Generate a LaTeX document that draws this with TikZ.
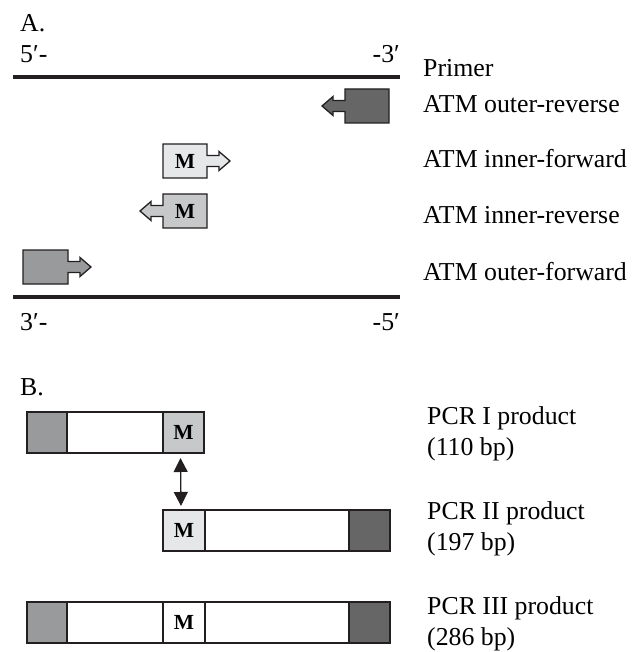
\documentclass[tikz,border=0pt]{standalone}
\usepackage{fontspec}
\setmainfont{Liberation Serif}
\usetikzlibrary{arrows.meta}
\definecolor{ink}{HTML}{231F20}
\definecolor{outerrev}{HTML}{666666}
\definecolor{outerfwd}{HTML}{999A9C}
\definecolor{innerrev}{HTML}{C7C8CA}
\definecolor{innerfwd}{HTML}{E6E7E8}
\tikzset{
  lbl/.style={inner sep=0pt, anchor=base west, font=\fontsize{25.8}{31}\selectfont},
  lblr/.style={lbl, anchor=base east},
  two/.style={lbl, align=left},
  strand/.style={line width=4pt, ink},
  primer/.style={draw=ink, line width=1.3pt, line join=miter},
  seg/.style={draw=ink, line width=1.3pt, minimum height=41pt, inner sep=0pt, outer sep=0pt},
  mtext/.style={font=\fontsize{21.5}{22}\selectfont\bfseries},
  swap/.style={line width=1.3pt, ink, {Triangle[length=14pt,width=14pt]}-{Triangle[length=14pt,width=14pt]}}
}
% primer glyph: box with a block arrow leaving one side
% #1 left x, #2 right x, #3 top y, #4 fill, #5 +1 arrow to the right / -1 to the left
\newcommand\primerglyph[5]{%
  \pgfmathsetmacro\ym{#3+17}%
  \ifnum#5>0
    \filldraw[primer, fill=#4] (#1,#3) -- (#2,#3) -- (#2,\ym-5.5) -- (#2+12,\ym-5.5) -- (#2+12,\ym-9.5)
      -- (#2+23,\ym) -- (#2+12,\ym+9.5) -- (#2+12,\ym+5.5) -- (#2,\ym+5.5) -- (#2,#3+34) -- (#1,#3+34) -- cycle;
  \else
    \filldraw[primer, fill=#4] (#2,#3) -- (#1,#3) -- (#1,\ym-5.5) -- (#1-12,\ym-5.5) -- (#1-12,\ym-9.5)
      -- (#1-23,\ym) -- (#1-12,\ym+9.5) -- (#1-12,\ym+5.5) -- (#1,\ym+5.5) -- (#1,#3+34) -- (#2,#3+34) -- cycle;
  \fi}
\begin{document}
\begin{tikzpicture}[x=1pt, y=-1pt]
\useasboundingbox (0,0) rectangle (640,652);

% ---------- panel A ----------
\node[lbl] (pa) at (20,32) {A.};
\node[lbl] (p5t) at (20,63) {5′-};
\node[lblr] (p3t) at (400,63) {-3′};
\draw[strand] (13,77) coordinate (ta) -- (400,77) coordinate (tb);
\draw[strand] (13,297) coordinate (ba) -- (400,297) coordinate (bb);
\node[lbl] (p3b) at (20,330) {3′-};
\node[lblr] (p5b) at (400,330) {-5′};

\primerglyph{345}{389}{89}{outerrev}{-1}
\primerglyph{163}{207}{144}{innerfwd}{1}
\primerglyph{163}{207}{194}{innerrev}{-1}
\primerglyph{23}{68}{250}{outerfwd}{1}
\node[mtext] (mif) at (185,161) {M};
\node[mtext] (mir) at (185,211) {M};

\node[lbl] (hprimer) at (423,77) {Primer};
\node[lbl] (lor) at (423,113) {ATM outer-reverse};
\node[lbl] (lif) at (423,168) {ATM inner-forward};
\node[lbl] (lir) at (423,223) {ATM inner-reverse};
\node[lbl] (lof) at (423,280) {ATM outer-forward};

% ---------- panel B ----------
\node[lbl] (pb) at (20,395) {B.};

% PCR I
\node[seg, fill=outerfwd, minimum width=40pt, anchor=north west] (a1) at (27,412) {};
\node[seg, fill=white, minimum width=96pt, anchor=north west] (a2) at (a1.north east) {};
\node[seg, fill=innerrev, minimum width=41pt, anchor=north west, mtext] (a3) at (a2.north east) {M};
% PCR II
\node[seg, fill=innerfwd, minimum width=42pt, anchor=north west, mtext] (b1) at (163,510) {M};
\node[seg, fill=white, minimum width=144pt, anchor=north west] (b2) at (b1.north east) {};
\node[seg, fill=outerrev, minimum width=41pt, anchor=north west] (b3) at (b2.north east) {};
% PCR III
\node[seg, fill=outerfwd, minimum width=40pt, anchor=north west] (c1) at (27,602) {};
\node[seg, fill=white, minimum width=96pt, anchor=north west] (c2) at (c1.north east) {};
\node[seg, fill=white, minimum width=42pt, anchor=north west, mtext] (c3) at (c2.north east) {M};
\node[seg, fill=white, minimum width=144pt, anchor=north west] (c4) at (c3.north east) {};
\node[seg, fill=outerrev, minimum width=41pt, anchor=north west] (c5) at (c4.north east) {};

\draw[swap] ([xshift=-3pt,yshift=-5pt]a3.south) -- ([xshift=-3pt,yshift=4pt]b1.north);

% two-line labels, placed by the baseline of their last line
\node[two] (l1) at (427,455) {PCR I product\\(110 bp)};
\node[two] (l2) at (427,550) {PCR II product\\(197 bp)};
\node[two] (l3) at (427,645) {PCR III product\\(286 bp)};
\end{tikzpicture}
\end{document}
